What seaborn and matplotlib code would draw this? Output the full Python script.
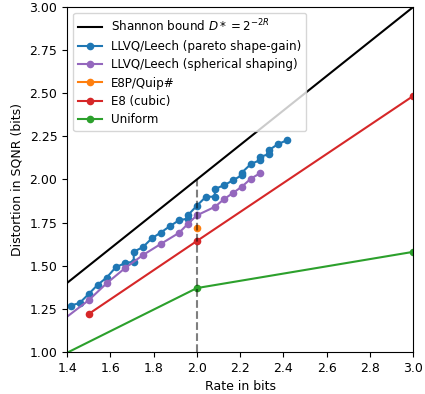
import matplotlib
matplotlib.use("Agg")
import matplotlib.pyplot as plt
import seaborn as sns

# --- DATA ---
shannon_rate = [1.0, 3.0]
shannon_sqnr = [1.0, 3.0]

pareto_rate = [1.375, 1.417, 1.458, 1.500, 1.542, 1.583, 1.625, 1.667, 1.708, 1.708,
               1.750, 1.792, 1.833, 1.875, 1.917, 1.958, 1.958, 2.000, 2.042, 2.083,
               2.083, 2.125, 2.167, 2.208, 2.208, 2.250, 2.292, 2.292, 2.333, 2.333,
               2.375, 2.417]
pareto_sqnr = [1.260, 1.268, 1.284, 1.336, 1.390, 1.431, 1.491, 1.514, 1.524, 1.581,
               1.607, 1.659, 1.692, 1.729, 1.763, 1.773, 1.792, 1.848, 1.900, 1.900,
               1.945, 1.966, 1.995, 2.025, 2.040, 2.090, 2.112, 2.132, 2.146, 2.170,
               2.205, 2.228]

spherical_rate = [1.333, 1.500, 1.583, 1.667, 1.750, 1.833, 1.917, 1.958, 2.000,
                  2.083, 2.125, 2.167, 2.208, 2.250, 2.292]
spherical_sqnr = [1.140, 1.300, 1.398, 1.485, 1.561, 1.626, 1.690, 1.742, 1.792,
                  1.841, 1.885, 1.922, 1.958, 2.005, 2.036]

e8p_rate = [2.0]
e8p_sqnr = [1.72]

e8_rate = [1.5, 2.0, 3.0]
e8_sqnr = [1.22, 1.643, 2.484]

uniform_rate = [1.0, 2.0, 3.0]
uniform_sqnr = [0.745, 1.37, 1.58]

# --- PLOT ---
fig, ax = plt.subplots(figsize=(4.25, 3.94), dpi=100)
fig.subplots_adjust(left=0.158, right=0.972, bottom=0.107, top=0.982)

ms = 5.5
sns.lineplot(x=shannon_rate, y=shannon_sqnr, color='black', linewidth=1.5,
             label=r'Shannon bound $D*=2^{-2R}$', ax=ax)
sns.lineplot(x=pareto_rate, y=pareto_sqnr, color='C0', marker='o', markersize=ms,
             markeredgewidth=0, estimator=None, sort=False,
             label='LLVQ/Leech (pareto shape-gain)', ax=ax)
sns.lineplot(x=spherical_rate, y=spherical_sqnr, color='C4', marker='o', markersize=ms,
             markeredgewidth=0, estimator=None, sort=False,
             label='LLVQ/Leech (spherical shaping)', ax=ax)
sns.lineplot(x=e8p_rate, y=e8p_sqnr, color='C1', marker='o', markersize=ms,
             markeredgewidth=0, label='E8P/Quip#', ax=ax)
sns.lineplot(x=e8_rate, y=e8_sqnr, color='C3', marker='o', markersize=ms,
             markeredgewidth=0, label='E8 (cubic)', ax=ax)
sns.lineplot(x=uniform_rate, y=uniform_sqnr, color='C2', marker='o', markersize=ms,
             markeredgewidth=0, label='Uniform', ax=ax)

# dashed marker at rate 2
ax.plot([2.0, 2.0], [1.0, 2.0], color='black', linestyle='--', alpha=0.5, linewidth=1.5)

ax.set_xlim(1.4, 3.0)
ax.set_ylim(1.0, 3.0)
ax.set_xlabel('Rate in bits', fontsize=9)
ax.set_ylabel('Distortion in SQNR (bits)', fontsize=9)
ax.tick_params(labelsize=9)
ax.legend(loc='upper left', fontsize=8.6, labelspacing=0.45)

plt.savefig('out.png')
